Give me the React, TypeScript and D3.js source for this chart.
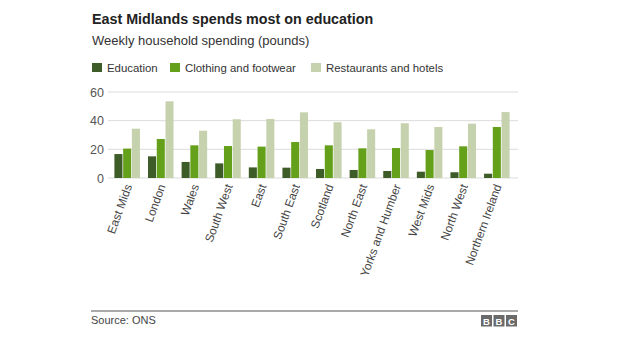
import * as d3 from "d3";

const regions = [
  "East Mids",
  "London",
  "Wales",
  "South West",
  "East",
  "South East",
  "Scotland",
  "North East",
  "Yorks and Humber",
  "West Mids",
  "North West",
  "Northern Ireland",
];
const education = [16.7, 15.1, 11.2, 10.2, 7.4, 7.2, 6.3, 5.6, 4.9, 4.4, 4.0, 3.0];
const clothing = [20.5, 27.2, 22.8, 22.3, 21.9, 25.1, 22.8, 20.7, 20.9, 19.5, 22.1, 35.6];
const restaurants = [34.4, 53.5, 33.0, 41.0, 41.2, 45.8, 38.9, 34.0, 38.2, 35.6, 37.9, 46.0];
const seriesNames = ["Education", "Clothing and footwear", "Restaurants and hotels"];
const colors = ["#3e5c27", "#64a019", "#c5d2ad"];
const yTicks = [0, 20, 40, 60];

const W = 624;
const H = 351;
const font = "'Liberation Sans', Arial, sans-serif";

export default function App() {
  const x = d3.scaleBand<string>().domain(regions).range([106, 518]).paddingInner(0.24).paddingOuter(0.25);
  const inner = d3.scaleBand<number>().domain([0, 1, 2]).range([0, x.bandwidth()]).paddingInner(0.08);
  const y = d3.scaleLinear().domain([0, 60]).range([178, 92]);
  const series = [education, clothing, restaurants];

  const legendX = [92, 170, 311];

  return (
    <div style={{ position: "fixed", left: 0, top: 0 }}>
      <svg width={W} height={H} style={{ display: "block", background: "#fff" }} fontFamily={font}>
        <text x={92} y={24} fontSize={14.3} fontWeight="bold" fill="#222">
          East Midlands spends most on education
        </text>
        <text x={92} y={45} fontSize={13} fill="#333">
          Weekly household spending (pounds)
        </text>

        {seriesNames.map((name, i) => (
          <g key={name}>
            <rect x={legendX[i]} y={63} width={10} height={9} fill={colors[i]} />
            <text x={legendX[i] + 15} y={71.5} fontSize={11.4} fill="#333">
              {name}
            </text>
          </g>
        ))}

        {yTicks.map((t) => (
          <g key={t}>
            <line x1={108} x2={518} y1={y(t)} y2={y(t)} stroke="#dcdcdc" strokeWidth={1} />
            <text x={104} y={y(t) + 4.5} textAnchor="end" fontSize={12.5} fill="#555">
              {t}
            </text>
          </g>
        ))}

        {regions.map((r, ri) => (
          <g key={r} transform={`translate(${x(r)},0)`}>
            {series.map((s, si) => (
              <rect
                key={si}
                x={inner(si)}
                y={y(s[ri])}
                width={inner.bandwidth()}
                height={y(0) - y(s[ri])}
                fill={colors[si]}
              />
            ))}
          </g>
        ))}

        {regions.map((r) => {
          const cx = (x(r) ?? 0) + x.bandwidth() / 2 + 5;
          return (
            <text
              key={r}
              transform={`translate(${cx},186) rotate(-70)`}
              textAnchor="end"
              fontSize={11.8}
              fill="#444"
            >
              {r}
            </text>
          );
        })}

        <line x1={91} x2={518} y1={311} y2={311} stroke="#555" strokeWidth={1} />
        <text x={91} y={324} fontSize={11} fill="#444">
          Source: ONS
        </text>
        {["B", "B", "C"].map((c, i) => (
          <g key={i} transform={`translate(${481 + i * 12.5},315)`}>
            <rect width={11} height={11.5} fill="#6a6a6a" />
            <text x={5.5} y={9.5} textAnchor="middle" fontSize={9.5} fontWeight="bold" fill="#fff">
              {c}
            </text>
          </g>
        ))}
      </svg>
    </div>
  );
}
